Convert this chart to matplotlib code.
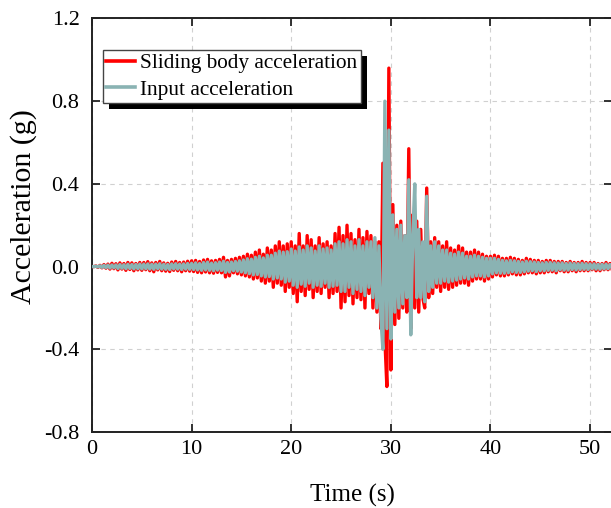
import numpy as np
import matplotlib
matplotlib.use("Agg")
import matplotlib.pyplot as plt
from matplotlib.patches import Rectangle

plt.rcParams['font.family'] = ['Liberation Serif', 'DejaVu Serif']

# ---- data (g), sampled every 0.2 s from 0 s ----
dt = 0.2
red_00_05 = [0.0, 0.0, 0.003, -0.004, 0.006, -0.006, 0.01, -0.008, 0.012, -0.012, 0.016, -0.01, 0.014, -0.016, 0.018, -0.012, 0.015, -0.018, 0.02, -0.014, 0.018, -0.02, 0.015, -0.016, 0.02]
red_05_10 = [-0.018, 0.02, -0.015, 0.024, -0.02, 0.018, -0.025, 0.02, -0.016, 0.025, -0.02, 0.018, -0.022, 0.016, -0.024, 0.022, -0.018, 0.025, -0.02, 0.02, -0.025, 0.022, -0.02, 0.026, -0.022]
red_10_15 = [0.028, -0.024, 0.03, -0.028, 0.025, -0.03, 0.032, -0.026, 0.035, -0.03, 0.028, -0.032, 0.03, -0.028, 0.035, -0.03, 0.045, -0.05, 0.03, -0.045, 0.035, -0.03, 0.04, -0.035, 0.045]
red_15_20 = [-0.04, 0.05, -0.045, 0.06, -0.05, 0.055, -0.06, 0.07, -0.055, 0.08, -0.07, 0.06, -0.08, 0.09, -0.07, 0.08, -0.1, 0.1, -0.08, 0.12, -0.09, 0.1, -0.12, 0.11, -0.1]
red_20_25 = [0.12, -0.13, 0.1, -0.17, 0.16, -0.12, 0.1, -0.14, 0.15, -0.11, 0.13, -0.15, 0.1, -0.12, 0.14, -0.13, 0.11, -0.1, 0.12, -0.15, 0.1, -0.13, 0.16, -0.12, 0.19]
red_25_30 = [-0.2, 0.15, -0.17, 0.2, -0.14, 0.16, -0.18, 0.13, -0.15, 0.18, -0.16, 0.14, -0.2, 0.17, -0.13, 0.15, -0.2, 0.12, -0.22, 0.12, -0.3, 0.5, -0.35, -0.58, 0.96]
red_30_35 = [-0.5, 0.3, -0.28, 0.2, -0.25, 0.22, -0.2, 0.15, -0.22, 0.57, -0.3, 0.25, -0.2, 0.22, -0.22, 0.18, -0.15, -0.2, 0.38, -0.15, 0.12, -0.13, 0.14, -0.1, 0.12]
red_35_40 = [-0.12, 0.1, -0.1, 0.12, -0.11, 0.09, -0.1, 0.08, -0.09, 0.1, -0.08, 0.09, -0.08, 0.07, -0.09, 0.07, -0.07, 0.08, -0.06, 0.07, -0.06, 0.06, -0.07, 0.05, -0.06]
red_40_45 = [0.05, -0.05, 0.055, -0.04, 0.05, -0.045, 0.04, -0.045, 0.04, -0.04, 0.045, -0.035, 0.04, -0.04, 0.035, -0.04, 0.03, -0.035, 0.04, -0.03, 0.035, -0.03, 0.03, -0.035, 0.03]
red_45_50 = [-0.03, 0.025, -0.03, 0.03, -0.025, 0.03, -0.025, 0.025, -0.03, 0.025, -0.02, 0.025, -0.025, 0.02, -0.025, 0.025, -0.02, 0.02, -0.025, 0.02, -0.02, 0.025, -0.02, 0.02, -0.02]
red_50_52 = [0.02, -0.015, 0.02, -0.02, 0.015, -0.02, 0.015, -0.015, 0.02, -0.015, 0.015, -0.012]

grey_00_05 = [0.0, 0.0, 0.002, -0.002, 0.004, -0.004, 0.006, -0.005, 0.007, -0.007, 0.008, -0.006, 0.008, -0.009, 0.01, -0.008, 0.009, -0.01, 0.011, -0.009, 0.01, -0.011, 0.01, -0.01, 0.012]
grey_05_10 = [-0.011, 0.012, -0.01, 0.013, -0.012, 0.011, -0.013, 0.012, -0.01, 0.014, -0.012, 0.011, -0.013, 0.01, -0.014, 0.013, -0.011, 0.014, -0.012, 0.012, -0.014, 0.013, -0.012, 0.015, -0.013]
grey_10_15 = [0.016, -0.014, 0.018, -0.016, 0.015, -0.018, 0.02, -0.016, 0.022, -0.018, 0.017, -0.02, 0.019, -0.017, 0.022, -0.019, 0.026, -0.028, 0.02, -0.026, 0.022, -0.02, 0.025, -0.022, 0.028]
grey_15_20 = [-0.026, 0.032, -0.03, 0.038, -0.034, 0.036, -0.04, 0.045, -0.038, 0.05, -0.045, 0.042, -0.05, 0.055, -0.048, 0.055, -0.06, 0.065, -0.055, 0.075, -0.06, 0.07, -0.075, 0.072, -0.07]
grey_20_25 = [0.085, -0.09, 0.075, -0.1, 0.095, -0.085, 0.08, -0.095, 0.1, -0.08, 0.09, -0.1, 0.075, -0.09, 0.1, -0.095, 0.085, -0.08, 0.09, -0.1, 0.08, -0.095, 0.11, -0.09, 0.12]
grey_25_30 = [-0.12, 0.11, -0.12, 0.13, -0.1, 0.12, -0.13, 0.1, -0.11, 0.13, -0.12, 0.1, -0.14, 0.12, -0.1, 0.12, -0.15, 0.14, -0.2, 0.1, -0.25, -0.4, 0.8, -0.3, 0.66]
grey_30_35 = [-0.35, 0.25, -0.22, 0.18, -0.2, 0.2, -0.18, 0.15, -0.15, 0.42, -0.33, 0.15, 0.4, -0.15, 0.18, -0.15, 0.12, -0.17, 0.34, -0.12, 0.1, -0.1, 0.12, -0.08, 0.1]
grey_35_40 = [-0.08, 0.08, -0.07, 0.08, -0.075, 0.065, -0.07, 0.06, -0.065, 0.07, -0.06, 0.065, -0.055, 0.05, -0.06, 0.05, -0.05, 0.055, -0.045, 0.05, -0.045, 0.045, -0.05, 0.04, -0.045]
grey_40_45 = [0.04, -0.035, 0.04, -0.03, 0.035, -0.032, 0.03, -0.032, 0.028, -0.03, 0.03, -0.025, 0.028, -0.028, 0.025, -0.028, 0.022, -0.025, 0.026, -0.022, 0.024, -0.02, 0.022, -0.024, 0.02]
grey_45_50 = [-0.02, 0.018, -0.02, 0.02, -0.018, 0.02, -0.017, 0.018, -0.02, 0.017, -0.015, 0.018, -0.017, 0.015, -0.017, 0.017, -0.014, 0.015, -0.016, 0.014, -0.014, 0.016, -0.013, 0.014, -0.014]
grey_50_52 = [0.013, -0.011, 0.013, -0.012, 0.011, -0.013, 0.011, -0.011, 0.012, -0.01, 0.01, -0.008]

series_names = ["Sliding body acceleration", "Input acceleration"]
xticks = [0, 10, 20, 30, 40, 50]
yticks = [-0.8, -0.4, 0.0, 0.4, 0.8, 1.2]
ytick_labels = ["-0.8", "-0.4", "0.0", "0.4", "0.8", "1.2"]

sliding = np.array(red_00_05 + red_05_10 + red_10_15 + red_15_20 + red_20_25 +
                   red_25_30 + red_30_35 + red_35_40 + red_40_45 + red_45_50 + red_50_52)
inp = np.array(grey_00_05 + grey_05_10 + grey_10_15 + grey_15_20 + grey_20_25 +
               grey_25_30 + grey_30_35 + grey_35_40 + grey_40_45 + grey_45_50 + grey_50_52)
t = np.arange(len(sliding)) * dt

RED = "#ff0000"
GREY = "#8ab3b3"

W, H = 611, 508
fig = plt.figure(figsize=(W / 100, H / 100), dpi=100)
ax = fig.add_axes([92 / W, (H - 432) / H, 520 / W, 413.5 / H])

ax.plot(t, sliding, color=RED, lw=2.4, label=series_names[0], zorder=3)
ax.plot(t, inp, color=GREY, lw=2.4, label=series_names[1], zorder=4)

ax.set_xlim(0, 52.2)
ax.set_ylim(-0.8, 1.2)
ax.set_xticks(xticks)
ax.set_yticks(yticks)
ax.set_yticklabels(ytick_labels)

ax.grid(True, color="#d0d0d0", lw=0.8, ls=(0, (4, 4)))
ax.set_axisbelow(True)

for s in ax.spines.values():
    s.set_color("#222222")
    s.set_linewidth(1.4)

ax.tick_params(direction="in", length=6, width=1.3, color="#222222",
               top=True, right=True, labelsize=16)
ax.tick_params(axis="x", pad=6)
ax.tick_params(axis="y", pad=9)
ax.set_xlabel("Time (s)", fontsize=18, labelpad=18)
ax.set_ylabel("Acceleration (g)", fontsize=21.5)
ax.yaxis.set_label_coords(-0.106, 0.545)

leg = ax.legend(loc="upper left", bbox_to_anchor=(103 / W, 1 - 50 / H),
                bbox_transform=fig.transFigure, borderaxespad=0,
                fancybox=False, framealpha=1, edgecolor="#444444",
                fontsize=15.3, handlelength=1.35, handletextpad=0.25,
                borderpad=0.15, labelspacing=0.32, frameon=True)
leg.get_frame().set_linewidth(1.0)
for ln in leg.get_lines():
    ln.set_linewidth(2.6)
leg.set_zorder(10)

fig.canvas.draw()
bb = leg.get_window_extent()
shadow = Rectangle((bb.x0 + 6, bb.y0 - 6), bb.width, bb.height,
                   transform=None, facecolor="black", edgecolor="none",
                   zorder=9, clip_on=False)
ax.add_artist(shadow)

fig.savefig("out.png", dpi=100)
